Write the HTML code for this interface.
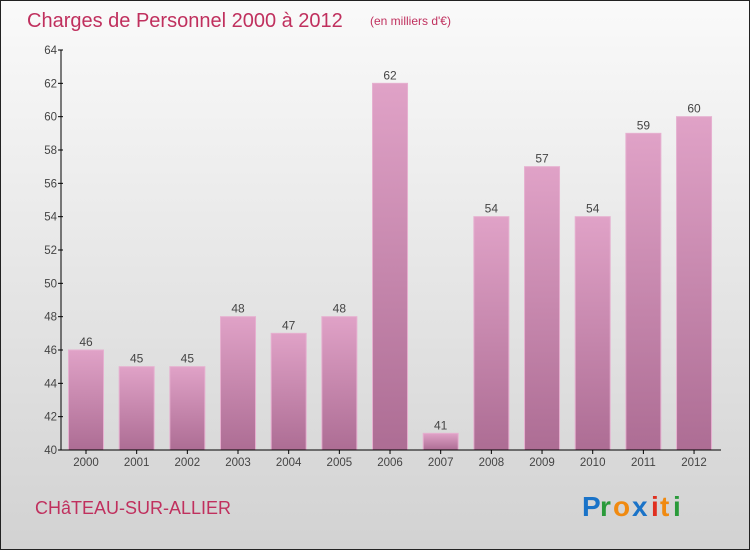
<!DOCTYPE html>
<html><head><meta charset="utf-8"><style>
body{margin:0;}
svg{display:block;font-family:"Liberation Sans",sans-serif;}
</style></head><body>
<svg id="c" width="750" height="550" xmlns="http://www.w3.org/2000/svg">
<defs>
<linearGradient id="bg" x1="0" y1="0" x2="0" y2="1"><stop offset="0" stop-color="#fafafa"/><stop offset="1" stop-color="#d2d2d2"/></linearGradient>
<linearGradient id="bar" x1="0" y1="0" x2="0" y2="1"><stop offset="0" stop-color="#e0a2c7"/><stop offset="1" stop-color="#ad6d94"/></linearGradient>
</defs>
<rect x="0.5" y="0.5" width="749" height="549" fill="url(#bg)" stroke="#222"/>
<text x="27" y="27" font-size="20" fill="#c0305e">Charges de Personnel 2000 à 2012</text>
<text x="370" y="25" font-size="12" fill="#c0305e">(en milliers d'€)</text>
<g id="bars"></g>
<g id="axes"></g>
<text x="35" y="514" font-size="18" fill="#c0305e">CHâTEAU-SUR-ALLIER</text>
<g font-size="28" font-weight="bold">
<text x="582" y="516" fill="#1a73c8">P</text><text x="600" y="516" fill="#2a9a3a">r</text><text x="613" y="516" fill="#f08a10">o</text><text x="632" y="516" fill="#1a73c8">x</text><text x="651" y="516" fill="#e03020">i</text><text x="660" y="516" fill="#f08a10">t</text><text x="673" y="516" fill="#2a9a3a">i</text>
</g>
</svg>
<script>
const years=["2000","2001","2002","2003","2004","2005","2006","2007","2008","2009","2010","2011","2012"];
const values=[46,45,45,48,47,48,62,41,54,57,54,59,60];
const yTicks=[40,42,44,46,48,50,52,54,56,58,60,62,64];
const NS="http://www.w3.org/2000/svg";
const y=v=>450-(v-40)*400/24;
const x=i=>86+i*50.67;
const bw=35;
function mk(t,a,p){const e=document.createElementNS(NS,t);for(const k in a)e.setAttribute(k,a[k]);p.appendChild(e);return e;}
const gb=document.getElementById('bars'),ga=document.getElementById('axes');
values.forEach((v,i)=>{
 const r=mk('rect',{x:x(i)-bw/2,y:y(v),width:bw,height:450-y(v),fill:'url(#bar)',stroke:'#e6b0d0','stroke-width':1},gb);
 
 
 const t=mk('text',{x:x(i),y:y(v)-4,'text-anchor':'middle','font-size':12,fill:'#444'},gb);t.textContent=v;
 
 
 const l=mk('text',{x:x(i),y:466,'text-anchor':'middle','font-size':11.5,fill:'#444'},ga);l.textContent=years[i];
 
 
 mk('line',{x1:x(i),x2:x(i),y1:450,y2:454,stroke:'#000'},ga);
});
const ya=mk('line',{x1:61,x2:61,y1:50,y2:450,stroke:'#000'},ga);


const xa=mk('line',{x1:61,x2:721,y1:450,y2:450,stroke:'#000'},ga);


yTicks.forEach(v=>{
 mk('line',{x1:58,x2:63,y1:y(v),y2:y(v),stroke:'#000'},ga);
 const t=mk('text',{x:57,y:y(v)+4,'text-anchor':'end','font-size':11.5,fill:'#444'},ga);t.textContent=v;
 
 
});
</script>
</body></html>
